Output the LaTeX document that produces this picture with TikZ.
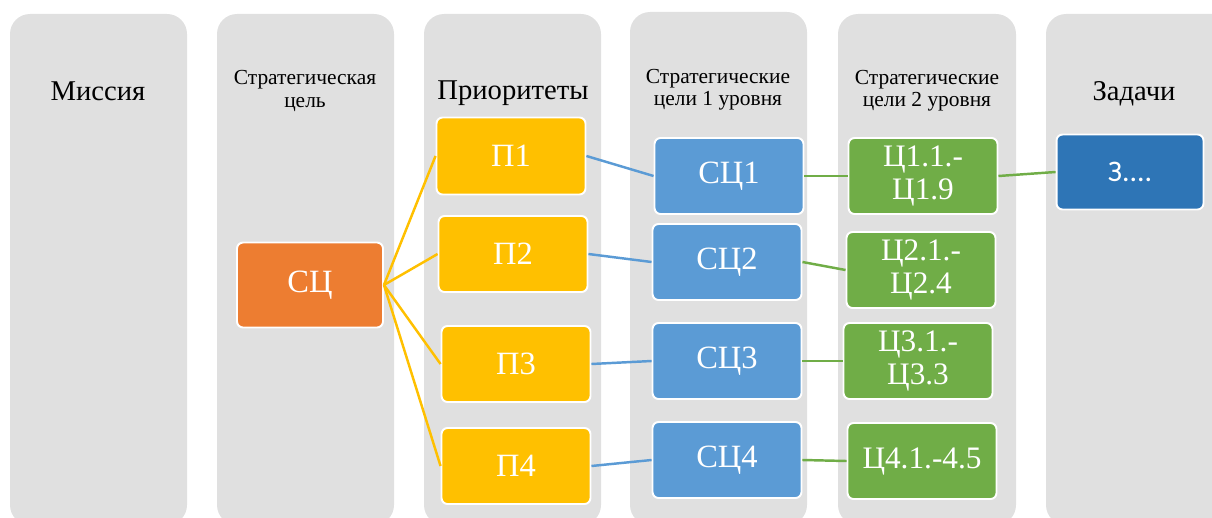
\documentclass[tikz,border=0pt]{standalone}
\usepackage{fontspec}
\setmainfont{Liberation Serif}
\newfontfamily\calibrifont{Carlito}
\definecolor{colgray}{HTML}{E0E0E0}
\definecolor{scorange}{HTML}{ED7D31}
\definecolor{pyellow}{HTML}{FFC000}
\definecolor{sclight}{HTML}{5B9BD5}
\definecolor{cgreen}{HTML}{70AD47}
\definecolor{zdark}{HTML}{2E75B6}

\begin{document}
\begin{tikzpicture}[x=0.02cm,y=-0.02cm,
            column/.style={fill=colgray,rounded corners=0.4cm},
            big head/.style={font=\fontsize{16.3}{18}\selectfont,anchor=base},
            small head/.style={font=\fontsize{12.2}{12.6}\selectfont,align=center},
            main node/.style={draw=white,line width=1.1pt,rounded corners=0.12cm,text=white,
                minimum width=2.98cm,minimum height=1.52cm,align=center,
                font=\fontsize{18.5}{19}\selectfont},
            goal node/.style={main node,font=\fontsize{17.8}{18.7}\selectfont},
            link/.style={line width=1.4pt},
            ]
            \clip (0,0) rectangle (1212,517);

            % columns
            \fill[column] (10,14) rectangle (187,525);
            \fill[column] (217,14) rectangle (394,525);
            \fill[column] (424,14) rectangle (601,525);
            \fill[column] (630,12) rectangle (807,525);
            \fill[column] (838,14) rectangle (1016,525);
            \fill[column] (1046,14) rectangle (1240,525);

            % headers
            \node[big head] (h1) at (98,100) {Миссия};
            \node[small head] (h2) at (305,91) {Стратегическая\\цель};
            \node[big head] (h3) at (513,99) {Приоритеты};
            \node[small head] (h4) at (718,90) {Стратегические\\цели 1 уровня};
            \node[small head] (h5) at (927,91) {Стратегические\\цели 2 уровня};
            \node[big head] (h6) at (1134,100) {Задачи};

            \node[main node, fill=scorange, minimum width=2.92cm, minimum height=1.7cm] (sc) at (310,285) {СЦ};

            \node[main node, fill=pyellow, minimum height=1.54cm] (p1) at (511,156) {П1};
            \node[main node, fill=pyellow] (p2) at (513,254) {П2};
            \node[main node, fill=pyellow] (p3) at (516,364) {П3};
            \node[main node, fill=pyellow] (p4) at (516,466) {П4};

            \node[main node, fill=sclight] (sc1) at (729,176) {СЦ1};
            \node[main node, fill=sclight] (sc2) at (727,262) {СЦ2};
            \node[main node, fill=sclight] (sc3) at (727,361) {СЦ3};
            \node[main node, fill=sclight] (sc4) at (727,460) {СЦ4};

            \node[goal node, fill=cgreen] (c1) at (923,176) {Ц1.1.-\\Ц1.9};
            \node[goal node, fill=cgreen] (c2) at (921,270) {Ц2.1.-\\Ц2.4};
            \node[goal node, fill=cgreen] (c3) at (918,361) {Ц3.1.-\\Ц3.3};
            \node[goal node, fill=cgreen] (c4) at (922,461) {Ц4.1.-4.5};

            \node[main node, fill=zdark, minimum width=2.94cm, minimum height=1.5cm,
                font=\calibrifont\fontsize{17}{18}\selectfont] (z) at (1130,172) {З....};

            \foreach \i in {1,2,3,4}
                \draw[link, pyellow] (sc.east) -- (p\i.west);
            \foreach \i in {1,2,3,4}
                \draw[link, sclight] (p\i.east) -- (sc\i.west);
            \foreach \i in {1,2,3,4}
                \draw[link, cgreen] (sc\i.east) -- (c\i.west);
            \draw[link, cgreen] (c1.east) -- (z.west);
        \end{tikzpicture}
\end{document}
